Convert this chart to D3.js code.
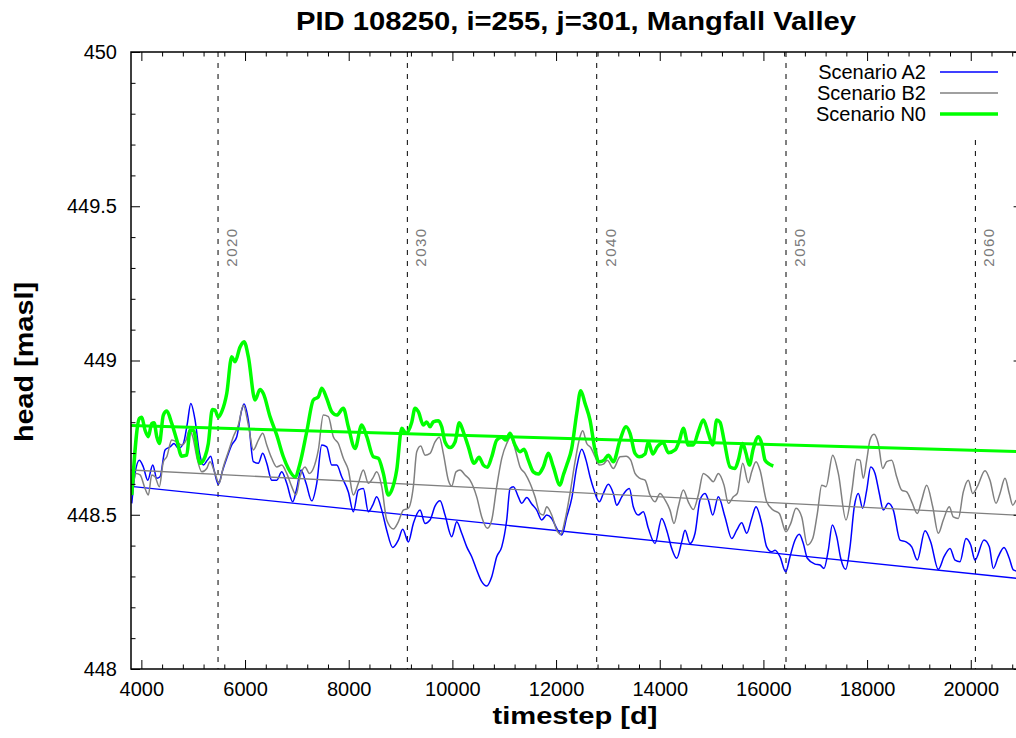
<!DOCTYPE html>
<html>
<head>
<meta charset="utf-8">
<script src="https://cdn.jsdelivr.net/npm/d3@7"></script>
<style>
  body { margin: 0; background: #fff; }
  text { font-family: "Liberation Sans", Arial, Helvetica, sans-serif; }
</style>
</head>
<body>
<div id="chart"></div>
<script>
// Scenario series (day, head in masl)
const daysA2 = [3815,3878,3961,4038,4123,4220,4297,4360,4457,4553,
  4630,4713,4810,4887,4953,5036,5118,5196,5273,5338,
  5402,5485,5570,5647,5743,5840,5936,5981,6064,6160,
  6257,6341,6419,6515,6612,6708,6804,6920,6997,7080,
  7177,7287,7383,7480,7576,7672,7769,7865,7993,8089,
  8186,8282,8378,8463,8540,8637,8733,8849,8957,9042,
  9150,9247,9376,9472,9569,9665,9762,9858,9987,10084,
  10180,10277,10373,10469,10566,10662,10759,10855,10952,11048,
  11112,11176,11272,11338,11434,11531,11627,11723,11820,11916,
  12013,12109,12206,12302,12399,12495,12578,12655,12732,12835,
  12912,13008,13105,13170,13267,13330,13414,13490,13587,13683,
  13780,13909,14038,14134,14231,14328,14424,14488,14584,14681,
  14777,14873,14937,15022,15130,
  15259,15389,15485,15581,15678,15774,15857,15967,16063,16160,
  16224,16320,16430,16513,16610,16692,16770,16847,16995,17092,
  17169,17252,17329,17414,17491,17587,17671,17753,17831,17915,
  17993,18070,18153,18236,18313,18409,18506,18635,18751,18861,
  18969,19117,19227,19374,19484,19600,19696,19792,19908,19999,
  20082,20255,20358,20435,20531,20641,20743,20821,20873];
const headA2 = [448.537,448.634,448.677,448.655,448.612,448.661,448.618,448.623,448.710,448.720,
  448.731,448.715,448.731,448.796,448.861,448.807,448.704,448.661,448.677,448.690,
  448.645,448.599,448.645,448.683,448.726,448.753,448.839,448.859,448.807,448.672,
  448.667,448.699,448.667,448.612,448.612,448.639,448.602,448.542,448.585,448.645,
  448.602,448.545,448.602,448.726,448.720,448.661,448.661,448.623,448.574,448.510,
  448.580,448.585,448.510,448.531,448.558,448.515,448.450,448.394,448.418,448.453,
  448.412,448.472,448.515,448.472,448.483,448.528,448.545,448.499,448.429,448.477,
  448.440,448.396,448.364,448.321,448.283,448.269,448.299,448.364,448.396,448.483,
  448.585,448.591,448.558,448.537,448.556,448.535,448.515,448.483,448.499,448.488,
  448.456,448.434,448.493,448.553,448.655,448.712,448.677,448.623,448.580,448.542,
  448.569,448.599,448.569,448.531,448.558,448.574,448.585,448.526,448.499,448.510,
  448.456,448.407,448.488,448.450,448.391,448.359,448.412,448.450,448.407,448.440,
  448.548,448.569,448.548,448.499,448.558,
  448.493,448.423,448.450,448.474,448.440,448.488,448.526,448.472,448.396,448.380,
  448.385,448.364,448.315,448.364,448.418,448.437,448.407,448.359,448.340,448.337,
  448.326,448.385,448.467,448.429,448.359,448.323,448.396,448.526,448.569,448.521,
  448.580,448.655,448.634,448.569,448.515,448.537,448.515,448.418,448.412,448.396,
  448.353,448.448,448.412,448.323,448.364,448.391,448.353,448.348,448.423,448.402,
  448.353,448.418,448.396,448.326,448.364,448.394,448.359,448.321,448.318];

const daysB2 = [3826,3897,3975,4071,4135,4200,4264,4347,4424,4490,
  4586,4683,4779,4862,4926,4991,5068,5165,5261,5325,
  5421,5499,5581,5678,5774,5871,5967,6064,6160,6257,
  6341,6419,6515,6612,6708,6804,6901,6984,7061,7157,
  7240,7318,7414,7510,7607,7703,7800,7896,7993,8089,
  8186,8282,8378,8463,8540,8637,8733,8861,8957,9054,
  9150,9247,9312,9389,9472,9569,9665,9748,9825,9922,
  9987,10070,10147,10244,10340,10469,10566,10674,10759,10855,
  10952,11048,11125,11208,11305,11401,11498,11594,11691,11754,
  11820,11916,12013,12090,12173,12269,12366,12462,12514,12592,
  12669,12752,12835,12912,12989,13105,13234,13350,13440,13523,
  13620,13716,13813,13909,14005,14102,14198,14275,14358,14455,
  14551,14648,14744,14841,14937,15034,15130,15240,15323,15419,
  15496,15601,15709,15774,15857,15934,16063,16191,16307,16436,
  16527,16629,16739,16847,16951,17040,17125,17208,17337,17445,
  17593,17703,17800,17863,17927,17993,18056,18133,18216,18301,
  18378,18475,18571,18668,18764,18861,18969,19054,19150,19266,
  19374,19470,19586,19663,19760,19856,19953,20037,20126,20275,
  20371,20487,20564,20660,20743,20809,20873];
const headB2 = [448.569,448.634,448.629,448.585,448.564,448.629,448.623,448.591,448.672,448.688,
  448.742,448.736,448.726,448.742,448.774,448.753,448.688,448.639,448.650,448.672,
  448.634,448.602,448.655,448.704,448.753,448.791,448.855,448.791,448.710,448.742,
  448.764,448.726,448.683,448.655,448.661,448.634,448.591,448.564,448.623,448.655,
  448.634,448.650,448.710,448.823,448.818,448.753,448.731,448.683,448.645,448.564,
  448.602,448.645,448.602,448.618,448.639,448.591,448.483,448.454,448.477,448.515,
  448.521,448.591,448.704,448.723,448.693,448.699,448.736,448.751,448.699,448.612,
  448.593,448.639,448.645,448.629,448.612,448.558,448.493,448.456,448.483,448.591,
  448.683,448.731,448.751,448.715,448.655,448.634,448.602,448.558,448.504,448.499,
  448.526,448.499,448.450,448.437,448.483,448.569,448.672,448.753,448.772,448.731,
  448.718,448.688,448.661,448.664,448.677,448.650,448.688,448.690,448.677,448.634,
  448.618,448.612,448.564,448.542,448.569,448.548,448.515,448.472,448.526,448.580,
  448.542,448.517,448.564,448.634,448.623,448.607,448.634,448.596,448.537,448.558,
  448.569,448.667,448.604,448.639,448.672,448.645,448.542,448.515,448.504,448.445,
  448.472,448.521,448.493,448.402,448.423,448.504,448.596,448.591,448.693,448.634,
  448.483,448.574,448.679,448.677,448.618,448.677,448.742,448.761,448.731,448.650,
  448.672,448.677,448.623,448.580,448.574,448.542,448.504,448.548,448.596,448.526,
  448.440,448.483,448.526,448.493,448.488,448.574,448.612,448.569,448.591,448.643,
  448.612,448.537,448.569,448.618,448.569,448.531,448.548];

const daysN0 = [3815,3961,4007,4071,4135,4200,4245,4297,4347,4424,
  4490,4586,4683,4779,4875,4939,5003,5132,5228,5292,
  5369,5421,5485,5551,5647,5743,5807,5904,5981,6064,
  6193,6289,6353,6482,6612,6739,6835,6965,7061,7190,
  7318,7414,7480,7576,7672,7769,7896,7993,8122,8251,
  8348,8475,8571,8668,8764,8830,8926,9023,9106,9216,
  9279,9343,9439,9505,9569,9632,9729,9794,9858,9955,
  10051,10134,10211,10308,10417,10514,10597,10674,10759,10855,
  10952,11035,11112,11208,11305,11382,11465,11561,11658,11754,
  11851,11947,12076,12140,12206,12302,12399,12476,12559,12655,
  12752,12835,12925,13008,13105,13234,13350,13427,13523,13606,
  13716,13780,13865,13953,14069,14166,14295,14378,14455,14551,
  14648,14744,14841,14937,15022,15099,15163,15240,15356,15452,
  15516,15601,15664,15728,15805,15902,15967,16031,16114,16191];
const headN0 = [448.564,448.812,448.816,448.774,448.753,448.796,448.798,448.753,448.731,448.823,
  448.836,448.796,448.742,448.690,448.693,448.774,448.774,448.667,448.688,448.731,
  448.841,448.839,448.816,448.834,448.893,449.012,448.996,449.044,449.061,449.012,
  448.872,448.906,448.893,448.818,448.758,448.688,448.650,448.623,448.667,448.769,
  448.872,448.882,448.910,448.877,448.834,448.823,448.845,448.785,448.715,448.791,
  448.753,448.688,448.683,448.634,448.564,448.580,448.645,448.780,448.764,448.800,
  448.845,448.834,448.791,448.801,448.785,448.801,448.805,448.785,448.736,448.718,
  448.736,448.798,448.769,448.720,448.667,448.686,448.661,448.654,448.688,448.742,
  448.751,448.742,448.764,448.726,448.704,448.712,448.677,448.639,448.632,448.655,
  448.699,448.655,448.596,448.629,448.661,448.715,448.829,448.902,448.861,448.807,
  448.710,448.672,448.677,448.693,448.672,448.742,448.785,448.764,448.699,448.688,
  448.697,448.736,448.697,448.720,448.733,448.701,448.710,448.740,448.780,448.726,
  448.726,448.769,448.807,448.764,448.726,448.807,448.800,448.742,448.655,448.650,
  448.677,448.731,448.699,448.661,448.715,448.753,448.731,448.677,448.664,448.658];

// Linear trend of each scenario (start/end of the x range)
const trendDays = [3800, 21000];
const trendA2 = [448.592, 448.292];
const trendB2 = [448.645, 448.498];
const trendN0 = [448.789, 448.704];

// Decade markers
const yearDays = [5479, 9131, 12784, 16436, 20089];
const yearLabels = ["2020", "2030", "2040", "2050", "2060"];

const scenarioNames = ["Scenario A2", "Scenario B2", "Scenario N0"];
const scenarioColors = ["#0000ff", "#808080", "#00ff00"];
const xMajor = [4000, 6000, 8000, 10000, 12000, 14000, 16000, 18000, 20000];
const yMajor = [448, 448.5, 449, 449.5, 450];

const W = 1016, H = 738;
const plotLeft = 131, plotRight = 1022.6, plotTop = 52, plotBottom = 669;

const svg = d3.select("#chart").append("svg")
    .attr("width", W)
    .attr("height", H)
    .style("display", "block");

const x = d3.scaleLinear().domain([3800, 21000]).range([plotLeft, plotRight]);
const y = d3.scaleLinear().domain([448, 450]).range([plotBottom, plotTop]);

svg.append("clipPath").attr("id", "plot-clip")
  .append("rect")
    .attr("x", plotLeft).attr("y", plotTop)
    .attr("width", plotRight - plotLeft).attr("height", plotBottom - plotTop);

// decade lines and labels
svg.selectAll(".year-line")
    .data(yearDays)
  .enter().append("line")
    .attr("class", "year-line")
    .attr("x1", d => x(d)).attr("x2", d => x(d))
    .attr("y1", plotTop).attr("y2", plotBottom)
    .attr("stroke", "#000")
    .attr("stroke-width", 1)
    .attr("stroke-dasharray", "5,6");

svg.selectAll(".year-label")
    .data(yearDays)
  .enter().append("text")
    .attr("class", "year-label")
    .attr("transform", d => "translate(" + (x(d) + 19) + "," + 247 + ") rotate(-90)")
    .attr("text-anchor", "middle")
    .attr("font-size", "15px")
    .attr("letter-spacing", "1.5px")
    .attr("fill", "#7a7a7a")
    .text((d, i) => yearLabels[i]);

// series
const series = [
  { days: daysA2, head: headA2, trend: trendA2, width: 1.5, trendWidth: 1.3 },
  { days: daysB2, head: headB2, trend: trendB2, width: 1.5, trendWidth: 1.3 },
  { days: daysN0, head: headN0, trend: trendN0, width: 3.5, trendWidth: 3 }
];

const line = d3.line()
    .x(d => x(d[0]))
    .y(d => y(d[1]))
    .curve(d3.curveMonotoneX);

const plot = svg.append("g").attr("clip-path", "url(#plot-clip)");

series.forEach((s, i) => {
  plot.append("path")
      .attr("d", line(d3.zip(s.days, s.head)))
      .attr("fill", "none")
      .attr("stroke", scenarioColors[i])
      .attr("stroke-width", s.width)
      .attr("stroke-linejoin", "round");
  plot.append("path")
      .attr("d", d3.line().x(d => x(d[0])).y(d => y(d[1]))(d3.zip(trendDays, s.trend)))
      .attr("fill", "none")
      .attr("stroke", scenarioColors[i])
      .attr("stroke-width", s.trendWidth);
});

// legend background hides the grid line behind the key
svg.append("rect")
    .attr("x", 805).attr("y", plotTop)
    .attr("width", plotRight - 805).attr("height", 84)
    .attr("fill", "#fff");

// axes: ticks point inward, mirrored on top/right
function styleAxis(g) {
  g.select(".domain").remove();
  g.selectAll(".tick line").attr("stroke", "#000").attr("stroke-width", 1);
  g.selectAll(".tick text")
      .attr("font-size", "20px")
      .attr("font-family", "'Liberation Sans', Arial, sans-serif")
      .attr("fill", "#000");
}

const xMinor = d3.range(4000, 21000, 400).filter(v => !xMajor.includes(v));
const yMinor = d3.range(4480, 4501, 1).map(v => v / 10).filter(v => !yMajor.includes(v));

svg.append("g")
    .attr("transform", "translate(0," + plotBottom + ")")
    .call(d3.axisBottom(x).tickValues(xMajor).tickSize(-9).tickPadding(13).tickFormat(d3.format("d")))
    .call(styleAxis);
svg.append("g")
    .attr("transform", "translate(0," + plotBottom + ")")
    .call(d3.axisBottom(x).tickValues(xMinor).tickSize(-4.5).tickFormat(""))
    .call(styleAxis);
svg.append("g")
    .attr("transform", "translate(0," + plotTop + ")")
    .call(d3.axisTop(x).tickValues(xMajor).tickSize(-9).tickFormat(""))
    .call(styleAxis);
svg.append("g")
    .attr("transform", "translate(0," + plotTop + ")")
    .call(d3.axisTop(x).tickValues(xMinor).tickSize(-4.5).tickFormat(""))
    .call(styleAxis);

svg.append("g")
    .attr("transform", "translate(" + plotLeft + ",0)")
    .call(d3.axisLeft(y).tickValues(yMajor).tickSize(-9).tickPadding(14).tickFormat(d => String(d)))
    .call(styleAxis);
svg.append("g")
    .attr("transform", "translate(" + plotLeft + ",0)")
    .call(d3.axisLeft(y).tickValues(yMinor).tickSize(-4.5).tickFormat(""))
    .call(styleAxis);
svg.append("g")
    .attr("transform", "translate(" + plotRight + ",0)")
    .call(d3.axisRight(y).tickValues(yMajor).tickSize(-9).tickFormat(""))
    .call(styleAxis);
svg.append("g")
    .attr("transform", "translate(" + plotRight + ",0)")
    .call(d3.axisRight(y).tickValues(yMinor).tickSize(-4.5).tickFormat(""))
    .call(styleAxis);

// plot border
svg.append("rect")
    .attr("x", plotLeft).attr("y", plotTop)
    .attr("width", plotRight - plotLeft).attr("height", plotBottom - plotTop)
    .attr("fill", "none")
    .attr("stroke", "#000")
    .attr("stroke-width", 1.5);

// legend
const legend = svg.append("g").attr("class", "legend");
scenarioNames.forEach((name, i) => {
  const ly = 72 + i * 21;
  legend.append("text")
      .attr("x", 926).attr("y", ly + 7)
      .attr("text-anchor", "end")
      .attr("font-size", "20px")
      .text(name);
  legend.append("line")
      .attr("x1", 940).attr("x2", 998)
      .attr("y1", ly).attr("y2", ly)
      .attr("stroke", scenarioColors[i])
      .attr("stroke-width", series[i].width);
});

// titles (bold face in the reference is wider than Liberation, so stretch glyphs)
svg.append("text")
    .attr("x", 576).attr("y", 30)
    .attr("text-anchor", "middle")
    .attr("font-size", "25px")
    .attr("font-weight", "bold")
    .attr("textLength", 560)
    .attr("lengthAdjust", "spacingAndGlyphs")
    .text("PID 108250, i=255, j=301, Mangfall Valley");

svg.append("text")
    .attr("x", 575).attr("y", 724)
    .attr("text-anchor", "middle")
    .attr("font-size", "24px")
    .attr("font-weight", "bold")
    .attr("textLength", 165)
    .attr("lengthAdjust", "spacingAndGlyphs")
    .text("timestep [d]");

svg.append("text")
    .attr("transform", "translate(33,362) rotate(-90)")
    .attr("text-anchor", "middle")
    .attr("font-size", "25px")
    .attr("font-weight", "bold")
    .attr("textLength", 160)
    .attr("lengthAdjust", "spacingAndGlyphs")
    .text("head [masl]");
</script>
</body>
</html>
